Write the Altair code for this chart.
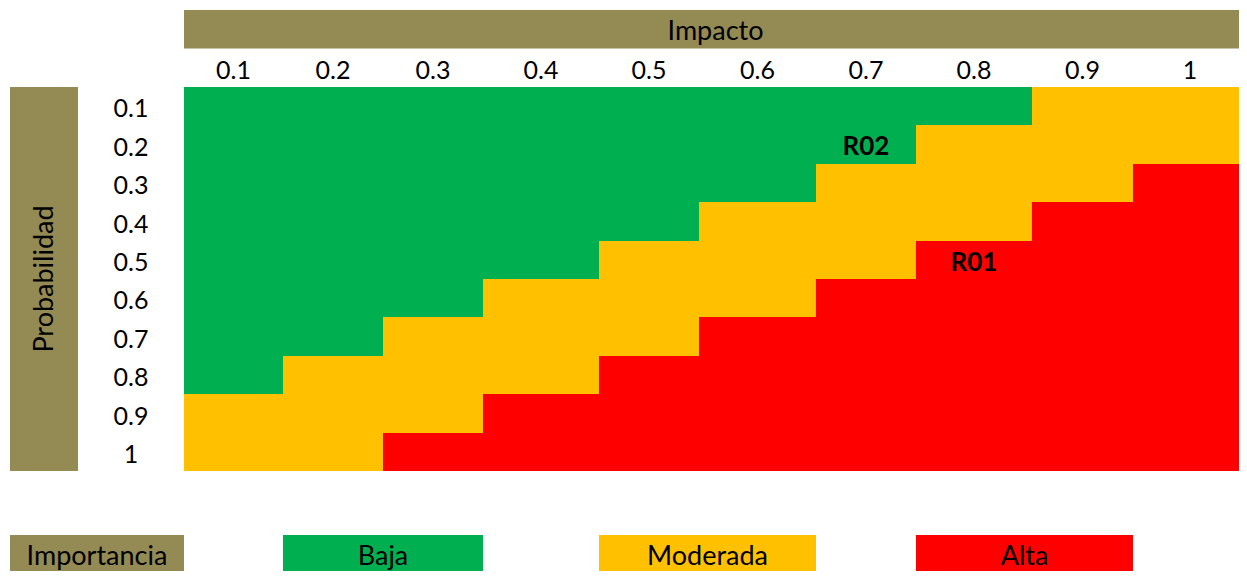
import altair as alt
import numpy as np
import pandas as pd

# ---------------- data ----------------
impacto = ["0.1", "0.2", "0.3", "0.4", "0.5", "0.6", "0.7", "0.8", "0.9", "1"]
probabilidad = ["0.1", "0.2", "0.3", "0.4", "0.5", "0.6", "0.7", "0.8", "0.9", "1"]
# one string per probabilidad row, one letter per impacto column
# B = Baja, M = Moderada, A = Alta
niveles_filas = [
    "BBBBBBBBMM",
    "BBBBBBBMMM",
    "BBBBBBMMMA",
    "BBBBBMMMAA",
    "BBBBMMMAAA",
    "BBBMMMAAAA",
    "BBMMMAAAAA",
    "BMMMAAAAAA",
    "MMMAAAAAAA",
    "MMAAAAAAAA",
]
codigo_nivel = {"B": "Baja", "M": "Moderada", "A": "Alta"}
importancia = ["Baja", "Moderada", "Alta"]
colores_importancia = ["#00B050", "#FFC000", "#FF0000"]
riesgos = ["R01", "R02"]
riesgos_impacto = ["0.8", "0.7"]
riesgos_prob = ["0.5", "0.2"]
titulo_x = "Impacto"
titulo_y = "Probabilidad"
titulo_leyenda = "Importancia"

# ---------------- layout (reference pixel units) ----------------
COL_W = [99, 100, 100, 116, 100, 117, 100, 116, 101, 114]
GRID_L, GRID_T, ROW_H = 184, 87, 38.4
ORIG_X, ORIG_Y = 10, 10          # top-left of the drawing
VIEW_R, VIEW_B = 1239, 571       # visible right / bottom limit (fits the window)
BAR_L, BAR_R = 10, 78            # vertical "Probabilidad" bar
LEG_T = 535                      # legend row top
LEG_COLS = [(1, 3), (4, 6), (7, 9)]
OLIVE = "#948A54"
FONT = "Lato"
BASE = 11                        # baseline offset from band centre

col_e = GRID_L + np.concatenate([[0], np.cumsum(COL_W)])
row_e = np.round(GRID_T + ROW_H * np.arange(len(probabilidad) + 1))
col_c = (col_e[:-1] + col_e[1:]) / 2
row_c = (row_e[:-1] + row_e[1:]) / 2
hdr_b = GRID_T - ROW_H

W = VIEW_R - ORIG_X
H = VIEW_B - ORIG_Y
xs = alt.Scale(domain=[ORIG_X, VIEW_R], clamp=True, nice=False, zero=False)
ys = alt.Scale(domain=[ORIG_Y, VIEW_B], clamp=True, nice=False, zero=False, reverse=True)
cscale = alt.Scale(domain=importancia, range=colores_importancia)

# cells
cells = []
for i, p in enumerate(probabilidad):
    for j, imp in enumerate(impacto):
        cells.append(dict(prob=p, imp=imp, nivel=codigo_nivel[niveles_filas[i][j]],
                          x0=col_e[j], x1=col_e[j + 1], y0=row_e[i], y1=row_e[i + 1]))
cells = pd.DataFrame(cells)

legend_boxes = pd.DataFrame([
    dict(nivel=n, x0=col_e[a], x1=col_e[b], y0=LEG_T, y1=LEG_T + ROW_H)
    for n, (a, b) in zip(importancia, LEG_COLS)
])

decor = pd.DataFrame([
    dict(x0=GRID_L, x1=col_e[-1], y0=ORIG_Y, y1=hdr_b),          # Impacto header
    dict(x0=BAR_L, x1=BAR_R, y0=row_e[0], y1=row_e[-1]),         # Probabilidad bar
    dict(x0=BAR_L, x1=GRID_L, y0=LEG_T, y1=LEG_T + ROW_H),       # Importancia box
])


def rects(df, color):
    return alt.Chart(df).mark_rect(strokeWidth=0).encode(
        x=alt.X("x0:Q", scale=xs, axis=None),
        x2="x1:Q",
        y=alt.Y("y0:Q", scale=ys, axis=None),
        y2="y1:Q",
        color=color,
    )


decor_layer = rects(decor, alt.value(OLIVE))
cell_layer = rects(cells, alt.Color("nivel:N", scale=cscale, legend=None))
leg_layer = rects(legend_boxes, alt.Color("nivel:N", scale=cscale, legend=None))

# tick labels
ticks = pd.DataFrame(
    [dict(t=v, x=col_c[j], y=(hdr_b + GRID_T) / 2 + BASE) for j, v in enumerate(impacto)]
    + [dict(t=v, x=(BAR_R + GRID_L) / 2, y=row_c[i] + BASE) for i, v in enumerate(probabilidad)]
)
titles = pd.DataFrame(
    [dict(t=titulo_x, x=(GRID_L + col_e[-1]) / 2, y=(ORIG_Y + hdr_b) / 2 + BASE - 0.5),
     dict(t=titulo_leyenda, x=(BAR_L + GRID_L) / 2, y=LEG_T + ROW_H / 2 + BASE)]
    + [dict(t=n, x=(col_e[a] + col_e[b]) / 2, y=LEG_T + ROW_H / 2 + BASE)
       for n, (a, b) in zip(importancia, LEG_COLS)]
)
ytitle = pd.DataFrame([dict(t=titulo_y, x=BAR_R - 25, y=(row_e[0] + row_e[-1]) / 2)])
rlab = pd.DataFrame([
    dict(t=r, x=col_c[impacto.index(ix)], y=row_c[probabilidad.index(py)] + BASE - 0.5)
    for r, ix, py in zip(riesgos, riesgos_impacto, riesgos_prob)
])


def texts(df, **kw):
    return alt.Chart(df).mark_text(font=FONT, color="#000000", align="center",
                                   baseline="alphabetic", **kw).encode(
        x=alt.X("x:Q", scale=xs, axis=None),
        y=alt.Y("y:Q", scale=ys, axis=None),
        text="t:N",
    )


chart = alt.layer(
    decor_layer,
    cell_layer,
    leg_layer,
    texts(ticks, fontSize=25),
    texts(titles, fontSize=27),
    texts(ytitle, fontSize=27, angle=270),
    texts(rlab, fontSize=26, fontWeight="bold"),
).properties(
    width=W,
    height=H,
    padding={"left": 2, "top": 2, "right": 0, "bottom": 0},
    autosize=alt.AutoSizeParams(type="none"),
    background="white",
).configure_view(stroke=None)

chart.save("out.html", embed_options={"renderer": "svg", "actions": False})
